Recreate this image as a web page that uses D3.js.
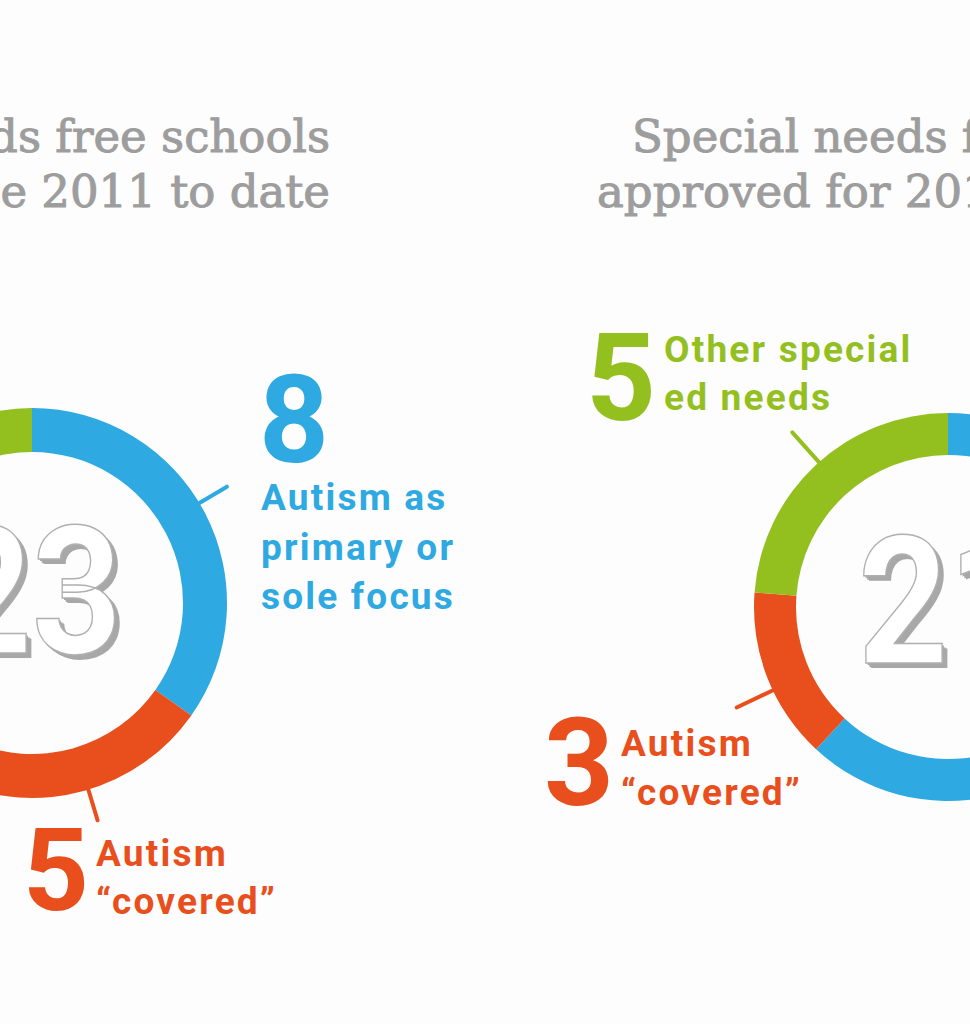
<!DOCTYPE html>
<html>
<head>
<meta charset="utf-8">
<script src="https://cdn.jsdelivr.net/npm/d3@7/dist/d3.min.js"></script>
<style>
  html, body { margin: 0; padding: 0; background: #fdfdfd; }
  svg { display: block; }
</style>
</head>
<body>
<svg id="chart" width="970" height="1024"></svg>
<script>
// ---- data ----
const categories = ["Autism as primary or sole focus", "Autism \u201ccovered\u201d", "Other special ed needs"];
const colors = ["#2ea9e1", "#e84f1c", "#93c01f"];
const openedValues = [8, 5, 10];      // opened since 2011 to date
const approvedValues = [13, 3, 5];    // approved
const openedTitle = ["Special needs free schools", "opened since 2011 to date"];
const approvedTitle = ["Special needs free schools", "approved for 2014 onwards"];
// label lines per category (which categories get a label, and its wording)
const openedLabels = [
  {cat: 0, lines: ["Autism as", "primary or", "sole focus"], angOff: -0.06},
  {cat: 1, lines: ["Autism", "\u201ccovered\u201d"], angOff: -0.02}
];
const approvedLabels = [
  {cat: 2, lines: ["Other special", "ed needs"], angOff: 0.02},
  {cat: 1, lines: ["Autism", "\u201ccovered\u201d"], angOff: -0.07}
];

const svg = d3.select("#chart");
svg.append("rect").attr("width", 970).attr("height", 1024).attr("fill", "#fdfdfd");

const titleFont = "'DejaVu Serif', serif";
const labelFont = "Roboto, 'DejaVu Sans', sans-serif";
const grey = "#9d9d9d";

function donut(cfg) {
  const g = svg.append("g").attr("transform", `translate(${cfg.cx},${cfg.cy})`);
  const pie = d3.pie().sort(null).value(d => d);
  const arcs = pie(cfg.values);
  const arc = d3.arc().innerRadius(cfg.r0).outerRadius(cfg.r1);
  g.selectAll("path.seg").data(arcs).join("path")
    .attr("class", "seg")
    .attr("d", arc)
    .attr("fill", (d, i) => colors[i]);

  // centre total (relative to centre), outlined face with grey extrusion
  const total = d3.sum(cfg.values);
  const num = g.append("g").attr("transform", `translate(0,${cfg.numY}) scale(0.88,1)`);
  [[6, 5], [4, 3.5], [2, 2]].forEach(([dx, dy]) => {
    num.append("text")
      .attr("x", dx).attr("y", dy)
      .attr("text-anchor", "middle")
      .attr("font-family", labelFont).attr("font-weight", 700)
      .attr("font-size", 178)
      .attr("fill", "#a8a8a8")
      .text(total);
  });
  num.append("text")
    .attr("x", 0).attr("y", 0)
    .attr("text-anchor", "middle")
    .attr("font-family", labelFont).attr("font-weight", 700)
    .attr("font-size", 178)
    .attr("fill", "#ffffff")
    .attr("stroke", "#b0b0b0").attr("stroke-width", 1.5)
    .text(total);

  // leader ticks near segment midpoints
  cfg.labels.forEach(l => {
    const a = arcs[l.cat];
    const ang = (a.startAngle + a.endAngle) / 2 + (l.angOff || 0);
    const s = Math.sin(ang), c = -Math.cos(ang);
    g.append("line")
      .attr("x1", s * (cfg.r1 - 2)).attr("y1", c * (cfg.r1 - 2))
      .attr("x2", s * (cfg.r1 + cfg.tick)).attr("y2", c * (cfg.r1 + cfg.tick))
      .attr("stroke", colors[l.cat]).attr("stroke-width", 4)
      .attr("stroke-linecap", "round");
  });

  // titles
  cfg.title.forEach((t, i) => {
    svg.append("text")
      .attr("x", cfg.titleX[i]).attr("y", cfg.titleY[i])
      .attr("text-anchor", cfg.titleAnchor)
      .attr("font-family", titleFont)
      .attr("font-size", 45)
      .attr("fill", grey)
      .attr("stroke", grey).attr("stroke-width", 1)
      .text(t);
  });

  // labels
  cfg.labelPos.forEach((p, k) => {
    const l = cfg.labels[k];
    const val = cfg.values[l.cat];
    svg.append("text")
      .attr("x", p.nx).attr("y", p.ny)
      .attr("font-family", labelFont).attr("font-weight", 700)
      .attr("font-size", p.ns)
      .attr("fill", colors[l.cat])
      .text(val);
    l.lines.forEach((line, j) => {
      svg.append("text")
        .attr("x", p.tx).attr("y", p.ty + j * p.lh)
        .attr("font-family", labelFont).attr("font-weight", 700)
        .attr("font-size", 37)
        .attr("letter-spacing", 2.2)
        .attr("fill", colors[l.cat])
        .text(line);
    });
  });
}

donut({
  cx: 32, cy: 603, r0: 151, r1: 195, tick: 32, numY: 50,
  values: openedValues, labels: openedLabels, title: openedTitle,
  titleX: [330, 330], titleY: [152, 207], titleAnchor: "end",
  labelPos: [
    {nx: 259, ny: 462, ns: 122, tx: 261, ty: 510, lh: 49.5},
    {nx: 23, ny: 910, ns: 115, tx: 96, ty: 866, lh: 48}
  ]
});

donut({
  cx: 948, cy: 607, r0: 152, r1: 194, tick: 40, numY: 56,
  values: approvedValues, labels: approvedLabels, title: approvedTitle,
  titleX: [632, 597], titleY: [152, 207], titleAnchor: "start",
  labelPos: [
    {nx: 586, ny: 420, ns: 122, tx: 664, ty: 362, lh: 48},
    {nx: 544, ny: 805, ns: 122, tx: 621, ty: 756, lh: 49}
  ]
});
</script>
</body>
</html>
